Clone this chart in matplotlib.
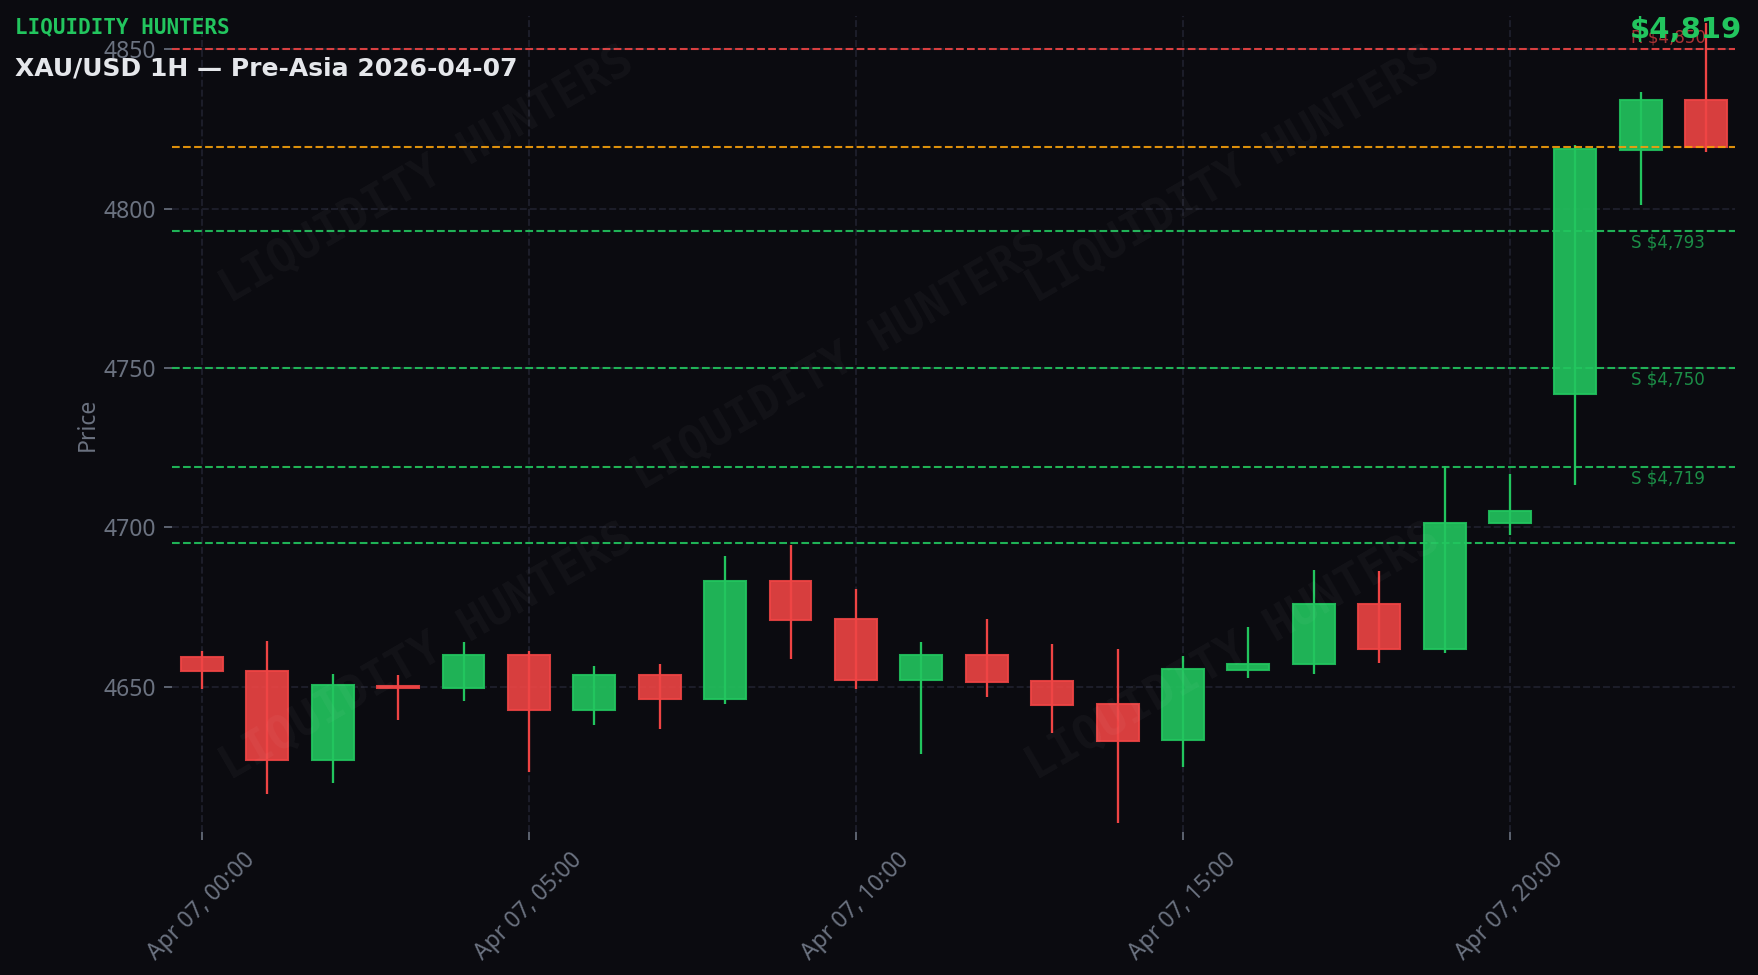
import pandas as pd
import numpy as np
import matplotlib
matplotlib.use("Agg")
import matplotlib.pyplot as plt
import matplotlib.dates as mdates
import matplotlib.transforms as mtransforms

# 1H candles, 2026-04-07
times = pd.date_range("2026-04-07 00:00", periods=24, freq="h")
opens = [4659.2, 4655.0, 4627.0, 4650.3, 4649.5, 4660.0, 4642.6, 4653.6, 4646.0, 4683.0, 4671.1, 4652.0,
         4659.8, 4651.7, 4644.5, 4633.1, 4655.2, 4657.0, 4675.9, 4661.9, 4701.2, 4741.8, 4818.3, 4833.9]
closes = [4655.0, 4627.0, 4650.4, 4649.7, 4660.0, 4642.6, 4653.6, 4646.0, 4683.0, 4670.9, 4652.0, 4659.8,
          4651.4, 4644.1, 4632.8, 4655.4, 4657.2, 4675.9, 4661.9, 4701.3, 4705.0, 4818.6, 4833.9, 4819.4]
highs = [4661.2, 4664.3, 4654.0, 4653.7, 4664.0, 4661.1, 4656.5, 4657.1, 4691.0, 4694.4, 4680.6, 4664.0,
         4671.2, 4663.4, 4661.8, 4659.6, 4668.7, 4686.6, 4686.3, 4719.1, 4716.8, 4819.8, 4836.4, 4858.3]
lows = [4649.4, 4616.4, 4619.9, 4639.6, 4645.6, 4623.3, 4638.1, 4636.8, 4644.4, 4658.8, 4649.4, 4629.0,
        4646.9, 4635.5, 4607.3, 4624.9, 4652.8, 4654.1, 4657.5, 4660.7, 4697.5, 4713.2, 4801.1, 4817.8]

# key levels
res_levels = [4850]
res_labels = ["R $4,850"]
sup_levels = [4793, 4750, 4719, 4695]
sup_labels = ["S $4,793", "S $4,750", "S $4,719", ""]
last_price = 4819.4
last_label = "$4,819"

BG = "#0b0b10"
GREEN = "#22c55e"
RED = "#ef4444"
ORANGE = "#f59e0b"
GRAY = "#6b7280"

fig = plt.figure(figsize=(11.72, 6.5), dpi=150, facecolor=BG)
ax = fig.add_axes([0.0978, 0.1467, 0.8891, 0.8369])
ax.set_facecolor(BG)

x = mdates.date2num(times)
o = np.array(opens)
c = np.array(closes)
up = c >= o
cols = np.where(up, GREEN, RED)
w = 0.64 / 24

ax.vlines(x, lows, highs, colors=cols, linewidth=1.1, zorder=3)
ax.bar(x, np.abs(c - o), bottom=np.minimum(o, c), width=w, color=cols, alpha=0.9,
       edgecolor=cols, linewidth=1.0, zorder=4)

# level lines
lbl_x = mtransforms.blended_transform_factory(ax.transAxes, ax.transData)
for lv, lb in zip(res_levels, res_labels):
    ax.axhline(lv, color=RED, linestyle="--", linewidth=1.0, alpha=0.9, zorder=5)
    ax.text(0.9335, lv + 0.8, lb, transform=lbl_x, color=RED, alpha=0.7, fontsize=8,
            ha="left", va="bottom", zorder=6)
for lv, lb in zip(sup_levels, sup_labels):
    ax.axhline(lv, color=GREEN, linestyle="--", linewidth=1.0, alpha=0.9, zorder=5)
    if lb:
        ax.text(0.9335, lv - 0.8, lb, transform=lbl_x, color=GREEN, alpha=0.7, fontsize=8,
                ha="left", va="top", zorder=6)
ax.axhline(last_price, color=ORANGE, linestyle="--", linewidth=1.0, alpha=0.9, zorder=5)

# watermark
for wx, wy in [(0.163, 0.805), (0.427, 0.576), (0.679, 0.805), (0.163, 0.22), (0.679, 0.22)]:
    ax.text(wx, wy, "LIQUIDITY HUNTERS", transform=ax.transAxes, rotation=30,
            ha="center", va="center", fontsize=22, fontweight="bold", family="DejaVu Sans Mono",
            color="white", alpha=0.035, zorder=7)

ax.set_xlim(x[0] - 0.459 / 24, x[0] + 23.44 / 24)
ax.set_ylim(4604.4, 4860.4)
ax.xaxis.set_major_locator(mdates.HourLocator(byhour=[0, 5, 10, 15, 20]))
ax.xaxis.set_major_formatter(mdates.DateFormatter("%b %d, %H:%M"))
ax.set_yticks([4650, 4700, 4750, 4800, 4850])
plt.setp(ax.get_xticklabels(), rotation=45)

ax.grid(True, color="#1e1f2b", linestyle="--", linewidth=0.9, zorder=0)
ax.set_axisbelow(True)
for s in ax.spines.values():
    s.set_visible(False)
ax.tick_params(colors=GRAY, labelsize=11, length=4)
for lab in ax.get_xticklabels() + ax.get_yticklabels():
    lab.set_family("Noto Sans")
ax.set_ylabel("Price", color=GRAY, fontsize=11, family="Noto Sans", labelpad=2)

fig.text(0.0085, 0.966, "LIQUIDITY HUNTERS", color=GREEN, fontsize=10, fontweight="bold",
         family="DejaVu Sans Mono", va="baseline")
fig.text(0.0085, 0.923, "XAU/USD 1H — Pre-Asia 2026-04-07", color="#e5e7eb", fontsize=12,
         fontweight="bold", va="baseline")
fig.text(0.991, 0.961, last_label, color=GREEN, fontsize=14, fontweight="bold",
         ha="right", va="baseline")

fig.savefig("out.png", dpi=150, facecolor=BG)
